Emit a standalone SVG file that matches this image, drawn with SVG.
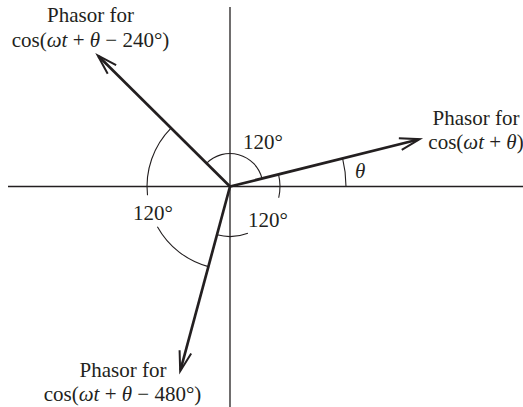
<svg xmlns="http://www.w3.org/2000/svg" width="523" height="407" viewBox="0 0 523 407">
<style>
text{font-family:"Liberation Serif","Times New Roman",serif;font-size:21px;fill:#231f20}
.i{font-style:italic}
.axis{stroke:#231f20;stroke-width:1.3;fill:none}
.ph{stroke:#231f20;stroke-width:2.7;fill:none;marker-end:url(#ah)}
.arc{stroke:#231f20;stroke-width:1.1;fill:none}
</style>
<defs>
<marker id="ah" markerUnits="userSpaceOnUse" orient="auto" refX="0" refY="0" markerWidth="30" markerHeight="30" viewBox="-20 -10 24 20" overflow="visible">
<path d="M-15,-4.8 L1,0 L-15,4.8" fill="none" stroke="#231f20" stroke-width="1.6" stroke-linejoin="miter"/>
</marker>
</defs>
<g id="axes">
<line class="axis" x1="8" y1="186.5" x2="523" y2="186.5"/>
<line class="axis" x1="230" y1="7" x2="230" y2="407"/>
</g>
<g id="connectors">
<line class="ph" x1="230" y1="186.5" x2="418.5" y2="139.5"/>
<line class="ph" x1="230" y1="186.5" x2="98.6" y2="56.3"/>
<line class="ph" x1="230" y1="186.5" x2="180.5" y2="370"/>
</g>
<g id="arcs">
<path class="arc" d="M262.0,178.5 A33,33 0 0 0 206.5,163.3"/>
<path class="arc" d="M346,186.5 A116,116 0 0 0 342.6,158.4"/>
<path class="arc" d="M278.5,174.4 A50,50 0 0 1 278.7,197.75"/>
<path class="arc" d="M247.9,233.2 A50,50 0 0 1 217.0,234.8"/>
<path class="arc" d="M171.0,128.1 A83,83 0 0 0 147.5,195.2"/>
<path class="arc" d="M157.4,226.7 A83,83 0 0 0 208.4,266.6"/>
</g>
<g id="angle-labels">
<text x="243" y="149">120°</text>
<text x="133" y="220">120°</text>
<text x="248" y="226.5">120°</text>
<text class="i" x="355" y="178">θ</text>
</g>
<g id="phasor-240">
<text x="90.5" y="21.5" text-anchor="middle">Phasor for</text>
<text x="90.5" y="46.5" text-anchor="middle">cos(<tspan class="i">ωt</tspan> + <tspan class="i">θ</tspan> − 240°)</text>
</g>
<g id="phasor-0">
<text x="476" y="125" text-anchor="middle">Phasor for</text>
<text x="476" y="148.5" text-anchor="middle">cos(<tspan class="i">ωt</tspan> + <tspan class="i">θ</tspan>)</text>
</g>
<g id="phasor-480">
<text x="123" y="377" text-anchor="middle">Phasor for</text>
<text x="122.5" y="400.5" text-anchor="middle">cos(<tspan class="i">ωt</tspan> + <tspan class="i">θ</tspan> − 480°)</text>
</g>
</svg>
